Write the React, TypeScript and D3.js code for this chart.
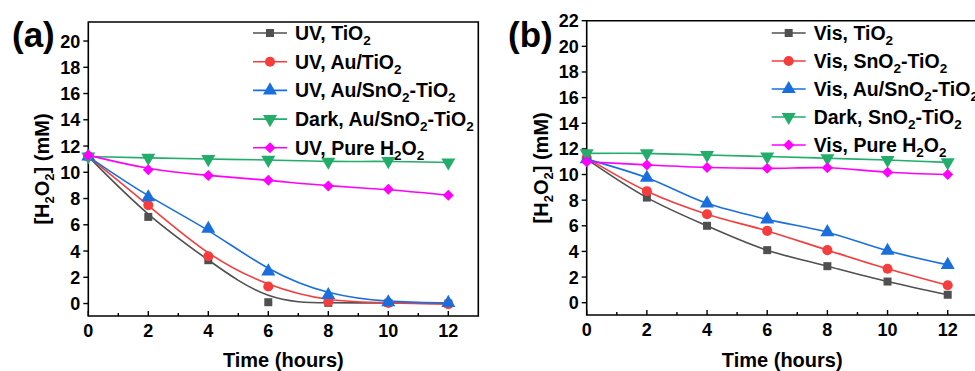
import React, { useEffect, useRef } from 'react';
import * as d3 from 'd3';

// time points (hours)
const hours = [0, 2, 4, 6, 8, 10, 12];

// panel (a) series
const uvTiO2 = [11.2, 6.6, 3.3, 0.1, 0.05, 0.05, 0.0];
const uvAuTiO2 = [11.2, 7.5, 3.6, 1.3, 0.15, 0.05, -0.05];
const uvAuSnTi = [11.2, 8.1, 5.7, 2.45, 0.65, 0.1, 0.05];
const darkAuSnTi = [11.2, 11.1, 11.0, 10.95, 10.8, 10.85, 10.75];
const uvPure = [11.3, 10.2, 9.75, 9.4, 8.95, 8.7, 8.25];

// panel (b) series
const visTiO2 = [11.2, 8.2, 6.0, 4.1, 2.85, 1.65, 0.62];
const visSnTi = [11.3, 8.7, 6.9, 5.6, 4.1, 2.65, 1.36];
const visAuSnTi = [11.2, 9.75, 7.75, 6.5, 5.5, 4.05, 2.95];
const darkSnTi = [11.65, 11.65, 11.52, 11.4, 11.27, 11.13, 10.95];
const visPure = [11.0, 10.75, 10.55, 10.48, 10.53, 10.18, 10.0];

// legend labels, "_" marks a subscript digit
const labelsA = ['UV, TiO_2', 'UV, Au/TiO_2', 'UV, Au/SnO_2-TiO_2', 'Dark, Au/SnO_2-TiO_2', 'UV, Pure H_2O_2'];
const labelsB = ['Vis, TiO_2', 'Vis, SnO_2-TiO_2', 'Vis, Au/SnO_2-TiO_2', 'Dark, SnO_2-TiO_2', 'Vis, Pure H_2O_2'];

const yTicksA = d3.range(0, 21, 2);
const yTicksB = d3.range(0, 23, 2);
const xTicks = d3.range(0, 13, 2);
const xMinor = d3.range(1, 13, 2);

const colors = ['#505050', '#f53d3d', '#1a6fdf', '#22ad6a', '#ff00ff'];
const FONT = '"Liberation Sans", Arial, sans-serif';

function marker(i) {
  if (i === 0) return { path: d3.symbol(d3.symbolSquare, 64)(), rot: 0 };
  if (i === 1) return { path: d3.symbol(d3.symbolCircle, 80)(), rot: 0 };
  if (i === 2) return { path: d3.symbol(d3.symbolTriangle, 85)(), rot: 0 };
  if (i === 3) return { path: d3.symbol(d3.symbolTriangle, 85)(), rot: 180 };
  return { path: d3.symbol(d3.symbolSquare, 60)(), rot: 45 };
}

// write text with subscripts into a d3 <text> selection
function richText(sel, str, subSize, shift) {
  const parts = str.split(/(_\d)/).filter(p => p !== '');
  let down = false;
  parts.forEach(p => {
    if (p.startsWith('_')) {
      sel.append('tspan').attr('font-size', subSize).attr('dy', down ? 0 : shift).text(p.slice(1));
      down = true;
    } else {
      sel.append('tspan').attr('dy', down ? -shift : 0).text(p);
      down = false;
    }
  });
}

function drawPanel(svg, cfg) {
  const { left, right, top, bottom, yDomain, yTicks, series, labels, curve, legend, letter, closeRight } = cfg;
  const x = d3.scaleLinear().domain([0, 13]).range([left, right]);
  const y = d3.scaleLinear().domain(yDomain).range([bottom, top]);
  const g = svg.append('g');

  // frame
  g.append('path')
    .attr('d', closeRight
      ? `M${left},${top}H${right}V${bottom}H${left}Z`
      : `M${right + 10},${top}H${left}V${bottom}H${right + 10}`)
    .attr('fill', 'none').attr('stroke', '#000').attr('stroke-width', 1.6);

  // y ticks (outward)
  g.selectAll('.yt').data(yTicks).enter().append('line')
    .attr('x1', left).attr('x2', left - 5)
    .attr('y1', d => y(d)).attr('y2', d => y(d))
    .attr('stroke', '#000').attr('stroke-width', 1.4);
  g.selectAll('.yl').data(yTicks).enter().append('text')
    .attr('x', left - 8).attr('y', d => y(d) + 6.5)
    .attr('text-anchor', 'end').attr('font-size', 18).attr('font-weight', 'bold')
    .attr('font-family', FONT).text(d => d);

  // x ticks (inward)
  g.selectAll('.xt').data(xTicks).enter().append('line')
    .attr('x1', d => x(d)).attr('x2', d => x(d))
    .attr('y1', bottom).attr('y2', bottom - 5)
    .attr('stroke', '#000').attr('stroke-width', 1.4);
  g.selectAll('.xm').data(xMinor).enter().append('line')
    .attr('x1', d => x(d)).attr('x2', d => x(d))
    .attr('y1', bottom).attr('y2', bottom - 3)
    .attr('stroke', '#000').attr('stroke-width', 1.4);
  g.selectAll('.xl').data(xTicks).enter().append('text')
    .attr('x', d => x(d)).attr('y', bottom + 21)
    .attr('text-anchor', 'middle').attr('font-size', 18).attr('font-weight', 'bold')
    .attr('font-family', FONT).text(d => d);

  // axis titles
  g.append('text')
    .attr('x', (left + right) / 2).attr('y', 367)
    .attr('text-anchor', 'middle').attr('font-size', 20).attr('font-weight', 'bold')
    .attr('font-family', FONT).text('Time (hours)');
  const yt = g.append('text')
    .attr('transform', `translate(${left - 39},${(top + bottom) / 2}) rotate(-90)`)
    .attr('text-anchor', 'middle').attr('font-size', 20).attr('font-weight', 'bold')
    .attr('font-family', FONT);
  richText(yt, '[H_2O_2] (mM)', 13, 5);

  // panel letter
  g.append('text')
    .attr('x', letter.x).attr('y', 47)
    .attr('font-size', 35).attr('font-weight', 'bold')
    .attr('font-family', FONT).text(letter.text);

  // series
  series.forEach((vals, i) => {
    const pts = hours.map((h, k) => [h, vals[k]]);
    const line = d3.line().x(d => x(d[0])).y(d => y(d[1])).curve(curve);
    g.append('path').attr('d', line(pts))
      .attr('fill', 'none').attr('stroke', colors[i]).attr('stroke-width', 1.6);
    const m = marker(i);
    g.selectAll(`.m${i}`).data(pts).enter().append('path')
      .attr('d', m.path)
      .attr('transform', d => `translate(${x(d[0])},${y(d[1])}) rotate(${m.rot})`)
      .attr('fill', colors[i]);
  });

  // legend
  labels.forEach((lab, i) => {
    const cy = legend.y0 + i * legend.step;
    g.append('line')
      .attr('x1', legend.x).attr('x2', legend.x + 34)
      .attr('y1', cy).attr('y2', cy)
      .attr('stroke', colors[i]).attr('stroke-width', 1.6);
    const m = marker(i);
    g.append('path').attr('d', m.path)
      .attr('transform', `translate(${legend.x + 17},${cy}) rotate(${m.rot})`)
      .attr('fill', colors[i]);
    const t = g.append('text')
      .attr('x', legend.x + 42).attr('y', cy + 6.8)
      .attr('font-size', 19.5).attr('font-weight', 'bold')
      .attr('font-family', FONT);
    richText(t, lab, 13.5, 5);
  });
}

function App() {
  const svgRef = useRef(null);

  useEffect(() => {
    const svg = d3.select(svgRef.current);
    svg.selectAll('*').remove();

    drawPanel(svg, {
      left: 88.3, right: 478.3, top: 22, bottom: 316,
      yDomain: [-0.95, 21.45], yTicks: yTicksA,
      series: [uvTiO2, uvAuTiO2, uvAuSnTi, darkAuSnTi, uvPure],
      labels: labelsA, curve: d3.curveBasis,
      legend: { x: 253, y0: 33, step: 28.7 },
      letter: { x: 12, text: '(a)' }, closeRight: true,
    });

    drawPanel(svg, {
      left: 586.7, right: 977.8, top: 20.7, bottom: 315,
      yDomain: [-0.96, 22], yTicks: yTicksB,
      series: [visTiO2, visSnTi, visAuSnTi, darkSnTi, visPure],
      labels: labelsB, curve: d3.curveCatmullRom,
      legend: { x: 771.7, y0: 33, step: 28 },
      letter: { x: 508, text: '(b)' }, closeRight: false,
    });
  }, []);

  return (
    <svg ref={svgRef} width={975} height={371}
      style={{ position: 'absolute', left: 0, top: 0, background: '#fff' }} />
  );
}

export default App;
